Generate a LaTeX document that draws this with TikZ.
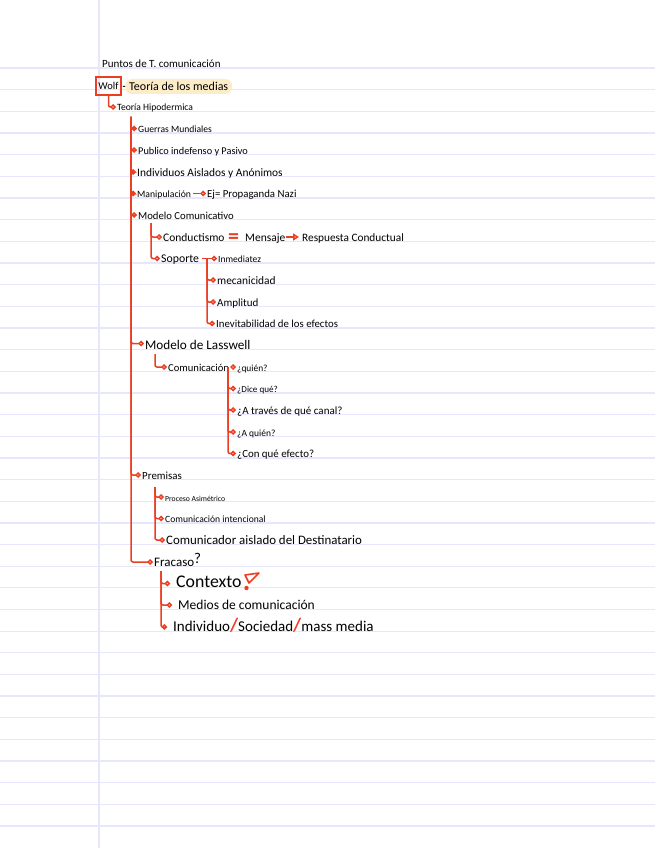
\documentclass[tikz,border=0pt]{standalone}
\usepackage{fontspec}
\setmainfont{Carlito}
\usetikzlibrary{arrows.meta,positioning}
\definecolor{cRed}{RGB}{236,62,34}
\definecolor{cLine}{RGB}{230,230,252}
\definecolor{cHigh}{RGB}{253,236,200}
\tikzset{
  item/.style={anchor=base west,inner sep=0pt,text height=8pt,text depth=0pt,
               font=\fontsize{#1}{12}\selectfont},
  item/.default=10,
  bigitem/.style={item=#1,text height=11pt},
  tree/.style={draw=cRed,line width=1.5pt,rounded corners=2pt,
               -{Circle[open,length=5.4pt,width=5.4pt]},shorten >=1.2pt},
  link/.style={tree,shorten <=2pt},
  hollowarr/.style={draw=cRed,line width=1.6pt,
               -{Triangle[open,length=6pt,width=7pt]},
               shorten <=1pt,shorten >=3pt},
  redsym/.style={anchor=base west,inner sep=0pt,text=cRed,
               font=\fontsize{#1}{12}\selectfont\bfseries},
  rule/.style={draw=cLine,line width=1.3pt},
  highlight/.style={anchor=west,fill=cHigh,rounded corners=7pt,inner xsep=4pt,
               inner ysep=0pt,minimum height=15pt,text height=8pt,text depth=0pt,
               font=\fontsize{12}{12}\selectfont}
}
\newcommand{\rslash}{{\color{cRed}\fontsize{19}{19}\selectfont\bfseries/}}

\begin{document}
\begin{tikzpicture}[x=1pt,y=-1pt]
  \useasboundingbox (0,0) rectangle (655,848);
  \fill[white] (0,0) rectangle (655,848);

  % ruled paper
  \foreach \k in {0,...,35}
    \draw[rule] (0,{68+21.66*\k}) -- (655,{68+21.66*\k});
  \draw[rule] (99,0) -- (99,848);

  % header
  \node[item=11] (titulo) at (102,67.5) {Puntos de T. comunicación};
  \node[draw=cRed,line width=1.6pt,minimum width=25pt,minimum height=18pt,
        inner sep=0pt,font=\fontsize{10.5}{12}\selectfont] (wolf) at (108.5,86) {Wolf};
  \node[highlight] (medias) at (125,86.5) {Teoría de los medias};
  \node[item=9.6] (hipo) at (117,111) {Teoría Hipodermica};

  % first level
  \node[item=9.6] (guerras) at (138,132.5) {Guerras Mundiales};
  \node[item=10.3] (publico) at (138,154) {Publico indefenso y Pasivo};
  \node[item=11.4] (individuos) at (137,176) {Individuos Aislados y Anónimos};
  \node[item=9.7] (manip) at (137,197.5) {Manipulación};
  \node[item=10.8] (ejnazi) at (207,197.5) {Ej= Propaganda Nazi};
  \node[item=10.7] (modcom) at (138,219) {Modelo Comunicativo};
  \node[bigitem=13.2] (lasswell) at (145,349) {Modelo de Lasswell};
  \node[item=10.9] (premisas) at (142,479) {Premisas};
  \node[item=13] (fracaso) at (154,566) {Fracaso\raisebox{3pt}{\fontsize{15}{15}\selectfont ?}};

  % modelo comunicativo
  \node[item=11.5] (conduct) at (163,241) {Conductismo};
  \node[redsym=22] (igual) at (228,243) {=};
  \node[item=11.5] (mensaje) at (245,241) {Mensaje};
  \node[item=11.3] (respuesta) at (302,241) {Respuesta Conductual};
  \node[item=11.8] (soporte) at (161,262.5) {Soporte};
  \node[item=9.5] (inmed) at (218,262.5) {Inmediatez};
  \node[item=11.4] (mecan) at (217,284) {mecanicidad};
  \node[item=11] (amplitud) at (217,306) {Amplitud};
  \node[item=10.8] (inevit) at (216,327.5) {Inevitabilidad de los efectos};

  % lasswell
  \node[item=10.6] (comunic) at (168,371) {Comunicación};
  \node[item=9.4] (quien) at (237,371) {¿quién?};
  \node[item=9.1] (dice) at (237,392.5) {¿Dice qué?};
  \node[item=11] (traves) at (237,414) {¿A través de qué canal?};
  \node[item=9.5] (aquien) at (237,436) {¿A quién?};
  \node[item=10.9] (conque) at (237,457.5) {¿Con qué efecto?};

  % premisas
  \node[item=7.7] (proceso) at (165,501) {Proceso Asimétrico};
  \node[item=9.6] (intenc) at (165,522.5) {Comunicación intencional};
  \node[item=12.9] (aislado) at (166,544) {Comunicador aislado del Destinatario};

  % fracaso
  \node[item=17.8] (contexto) at (176,587.5) {Contexto};
  \node[item=13.5] (medios) at (178,609) {Medios de comunicación};
  \node[item=15] (individuo) at (173,631) {Individuo\rslash Sociedad\rslash mass media};
  \draw[cRed,line width=1.6pt,line join=round] (245,575) -- (259,573) -- (249,583) -- cycle;
  \fill[cRed] (246.5,588) circle (2.2pt);

  % connectors
  \draw[black,line width=0.9pt,shorten <=1pt] (wolf.east) -- (medias.west);
  \draw[tree] (wolf.south) |- (hipo.west);

  \coordinate (t1) at (131,117);
  \foreach \n in {guerras,publico,individuos,manip,modcom,lasswell,premisas,fracaso}
    \draw[tree] (t1) |- (\n.west);
  \draw[link] (manip.east) -- (ejnazi.west);

  \coordinate (t2) at (151,223);
  \foreach \n in {conduct,soporte}
    \draw[tree] (t2) |- (\n.west);
  \draw[hollowarr] (mensaje.east) -- (respuesta.west);
  \draw[link,shorten <=3pt] (soporte.east) -- (inmed.west);
  \coordinate (t3) at (207,259);
  \foreach \n in {mecan,amplitud,inevit}
    \draw[tree] (t3) |- (\n.west);

  \coordinate (t4) at (155,354);
  \draw[tree] (t4) |- (comunic.west);
  \draw[link] (comunic.east) -- (quien.west);
  \coordinate (t5) at (228,367);
  \foreach \n in {dice,traves,aquien,conque}
    \draw[tree] (t5) |- (\n.west);

  \coordinate (t6) at (155,487);
  \foreach \n in {proceso,intenc,aislado}
    \draw[tree] (t6) |- (\n.west);

  \coordinate (t7) at (161,571);
  \foreach \n in {contexto,medios,individuo}
    \draw[tree,shorten >=6pt] (t7) |- (\n.west);

\end{tikzpicture}
\end{document}
